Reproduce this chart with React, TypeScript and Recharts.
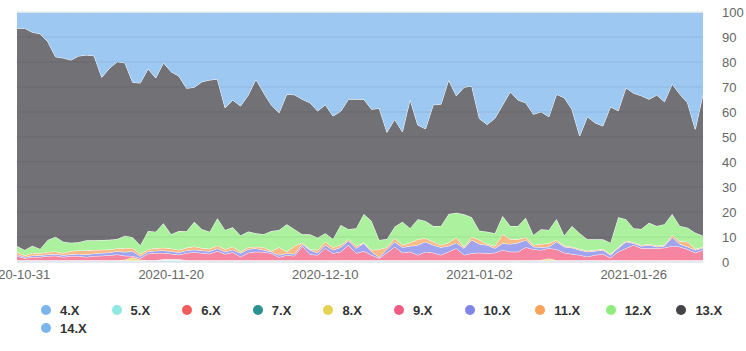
import { AreaChart, Area, XAxis, YAxis, ReferenceLine } from "recharts";

// one category per reporting day (a few holidays are missing)
const dates = [
  "2020-10-31", "2020-11-01", "2020-11-02", "2020-11-03", "2020-11-04", "2020-11-05", "2020-11-06", "2020-11-07", "2020-11-08", "2020-11-09",
  "2020-11-10", "2020-11-11", "2020-11-12", "2020-11-13", "2020-11-14", "2020-11-15", "2020-11-16", "2020-11-17", "2020-11-18", "2020-11-19",
  "2020-11-20", "2020-11-21", "2020-11-22", "2020-11-23", "2020-11-24", "2020-11-25", "2020-11-26", "2020-11-27", "2020-11-28", "2020-11-29",
  "2020-11-30", "2020-12-01", "2020-12-02", "2020-12-03", "2020-12-04", "2020-12-05", "2020-12-06", "2020-12-07", "2020-12-08", "2020-12-09",
  "2020-12-10", "2020-12-11", "2020-12-12", "2020-12-13", "2020-12-14", "2020-12-15", "2020-12-16", "2020-12-17", "2020-12-18", "2020-12-19",
  "2020-12-20", "2020-12-21", "2020-12-22", "2020-12-23", "2020-12-24", "2020-12-27", "2020-12-28", "2020-12-29", "2020-12-30", "2020-12-31",
  "2021-01-02", "2021-01-03", "2021-01-04", "2021-01-05", "2021-01-06", "2021-01-07", "2021-01-08", "2021-01-09", "2021-01-11", "2021-01-12",
  "2021-01-13", "2021-01-14", "2021-01-15", "2021-01-16", "2021-01-18", "2021-01-19", "2021-01-20", "2021-01-21", "2021-01-22", "2021-01-23",
  "2021-01-26", "2021-01-27", "2021-01-28", "2021-01-29", "2021-01-30", "2021-01-31", "2021-02-01", "2021-02-02", "2021-02-03", "2021-02-04",
];

// share per version, percent
const v4 = [
  0.2, 0.2, 0.2, 0.2, 0.2, 0.2, 0.2, 0.2, 0.2, 0.2,
  0.2, 0.2, 0.2, 0.2, 0.2, 0.2, 0.2, 0.2, 0.2, 0.2,
  0.2, 0.2, 0.2, 0.2, 0.2, 0.2, 0.2, 0.2, 0.2, 0.2,
  0.2, 0.2, 0.2, 0.2, 0.2, 0.2, 0.2, 0.2, 0.2, 0.2,
  0.2, 0.2, 0.2, 0.2, 0.2, 0.2, 0.2, 0.2, 0.2, 0.2,
  0.2, 0.2, 0.2, 0.2, 0.2, 0.2, 0.2, 0.2, 0.2, 0.2,
  0.2, 0.2, 0.2, 0.2, 0.2, 0.2, 0.2, 0.2, 0.2, 0.2,
  0.2, 0.2, 0.2, 0.2, 0.2, 0.2, 0.2, 0.2, 0.2, 0.2,
  0.2, 0.2, 0.2, 0.2, 0.2, 0.2, 0.2, 0.2, 0.2, 0.2,
];
const v5 = [
  0.2, 0.2, 0.2, 0.2, 0.2, 0.2, 0.2, 0.2, 0.2, 0.2,
  0.2, 0.2, 0.2, 0.2, 0.2, 0.2, 0.2, 0.2, 0.2, 0.6,
  0.6, 0.6, 0.2, 0.2, 0.2, 0.2, 0.2, 0.2, 0.2, 0.2,
  0.2, 0.2, 0.2, 0.2, 0.2, 0.2, 0.2, 0.2, 0.2, 0.2,
  0.2, 0.2, 0.2, 0.2, 0.2, 0.2, 0.2, 0.2, 0.2, 0.2,
  0.2, 0.2, 0.2, 0.2, 0.2, 0.2, 0.2, 0.2, 0.2, 0.2,
  0.2, 0.2, 0.2, 0.2, 0.2, 0.2, 0.2, 0.2, 0.2, 0.2,
  0.2, 0.2, 0.2, 0.2, 0.2, 0.2, 0.2, 0.2, 0.2, 0.2,
  0.2, 0.2, 0.2, 0.2, 0.2, 0.2, 0.2, 0.2, 0.2, 0.2,
];
const v6 = [
  0.1, 0.1, 0.1, 0.1, 0.1, 0.1, 0.1, 0.1, 0.1, 0.1,
  0.1, 0.1, 0.1, 0.1, 0.1, 0.1, 0.1, 0.1, 0.1, 0.1,
  0.1, 0.1, 0.1, 0.1, 0.1, 0.1, 0.1, 0.1, 0.1, 0.1,
  0.1, 0.1, 0.1, 0.1, 0.1, 0.1, 0.1, 0.1, 0.1, 0.1,
  0.1, 0.1, 0.1, 0.1, 0.1, 0.1, 0.1, 0.1, 0.1, 0.1,
  0.1, 0.1, 0.1, 0.1, 0.1, 0.1, 0.1, 0.1, 0.1, 0.1,
  0.1, 0.1, 0.1, 0.1, 0.1, 0.1, 0.1, 0.1, 0.1, 0.1,
  0.1, 0.1, 0.1, 0.1, 0.1, 0.1, 0.1, 0.1, 0.1, 0.1,
  0.1, 0.1, 0.1, 0.1, 0.1, 0.1, 0.1, 0.1, 0.1, 0.1,
];
const v7 = [
  0.1, 0.1, 0.1, 0.1, 0.1, 0.1, 0.1, 0.1, 0.1, 0.1,
  0.1, 0.1, 0.1, 0.1, 0.1, 0.1, 0.1, 0.1, 0.1, 0.1,
  0.1, 0.1, 0.1, 0.1, 0.1, 0.1, 0.1, 0.1, 0.1, 0.1,
  0.1, 0.1, 0.1, 0.1, 0.1, 0.1, 0.1, 0.1, 0.1, 0.1,
  0.1, 0.1, 0.1, 0.1, 0.1, 0.1, 0.1, 0.1, 0.1, 0.1,
  0.1, 0.1, 0.1, 0.1, 0.1, 0.1, 0.1, 0.1, 0.1, 0.1,
  0.1, 0.1, 0.1, 0.1, 0.1, 0.1, 0.1, 0.1, 0.1, 0.1,
  0.1, 0.1, 0.1, 0.1, 0.1, 0.1, 0.1, 0.1, 0.1, 0.1,
  0.1, 0.1, 0.1, 0.1, 0.1, 0.1, 0.1, 0.1, 0.1, 0.1,
];
const v8 = [
  0.1, 0.1, 0.1, 0.1, 0.1, 0.1, 0.1, 0.1, 0.1, 0.1,
  0.1, 0.1, 0.1, 0.1, 0.3, 1.3, 0.3, 0.1, 0.1, 0.1,
  0.1, 0.1, 0.1, 0.1, 0.1, 0.1, 0.1, 0.1, 0.1, 0.1,
  0.1, 0.1, 0.1, 0.1, 0.1, 0.1, 0.1, 0.1, 0.1, 0.1,
  0.1, 0.1, 0.1, 0.1, 0.1, 0.1, 0.1, 0.1, 0.1, 0.1,
  0.1, 0.1, 0.1, 0.1, 0.1, 0.1, 0.1, 0.1, 0.1, 0.1,
  0.1, 0.1, 0.1, 0.1, 0.1, 0.1, 0.1, 0.1, 0.2, 0.8,
  0.1, 0.1, 0.1, 0.1, 0.1, 0.1, 0.1, 0.1, 0.1, 0.1,
  0.1, 0.1, 0.1, 0.1, 0.1, 0.1, 0.1, 0.1, 0.1, 0.1,
];
const v9 = [
  1.7, 0.8, 1.3, 1.3, 1.7, 1.8, 1.3, 1.7, 1.7, 1.3,
  1.7, 1.8, 2.0, 2.3, 1.6, 0.5, 0.6, 2.6, 2.9, 2.5,
  2.2, 1.8, 2.9, 3.2, 2.9, 2.6, 3.7, 2.5, 3.2, 1.4,
  3.0, 3.4, 3.3, 2.8, 1.2, 2.1, 1.7, 5.7, 2.4, 2.1,
  4.8, 2.8, 3.4, 6.1, 2.8, 3.7, 2.1, 0.8, 3.0, 5.4,
  3.0, 3.4, 2.1, 3.4, 3.0, 2.1, 3.4, 4.8, 2.1, 2.8,
  3.0, 2.8, 3.0, 4.1, 3.4, 3.4, 5.2, 4.4, 4.0, 4.1,
  4.4, 3.0, 2.5, 2.1, 1.4, 2.1, 2.5, 1.0, 3.4, 4.8,
  6.1, 4.8, 4.8, 4.8, 5.0, 5.7, 5.4, 4.4, 3.0, 4.1,
];
const v10 = [
  0.6, 0.5, 0.6, 0.7, 0.6, 0.7, 0.7, 0.7, 0.8, 1.0,
  1.0, 1.1, 1.1, 1.3, 1.5, 1.9, 0.8, 0.9, 0.9, 1.0,
  1.0, 0.9, 1.0, 1.0, 1.0, 1.0, 1.0, 0.9, 1.0, 1.4,
  1.4, 1.4, 0.8, 0.6, 0.9, 0.7, 0.8, 0.8, 1.7, 0.9,
  1.3, 1.3, 1.8, 1.7, 2.0, 3.1, 1.3, 0.4, 1.4, 2.0,
  2.2, 2.3, 4.0, 4.0, 3.1, 3.1, 2.3, 2.2, 2.7, 5.3,
  3.5, 3.3, 1.8, 2.7, 3.1, 3.6, 2.9, 1.0, 1.1, 0.6,
  3.0, 2.4, 2.5, 2.0, 2.0, 1.6, 1.6, 1.1, 1.4, 2.6,
  0.7, 0.9, 1.3, 0.6, 0.7, 3.5, 1.1, 1.0, 1.1, 0.9,
];
const v11 = [
  1.0, 0.6, 1.0, 0.8, 1.0, 1.0, 0.8, 1.3, 1.4, 1.6,
  1.4, 1.3, 1.2, 1.1, 1.6, 1.3, 0.9, 0.9, 1.0, 1.1,
  1.1, 1.0, 1.1, 1.3, 1.0, 1.0, 1.2, 1.0, 1.2, 0.6,
  0.8, 0.6, 1.1, 0.3, 3.1, 0.6, 3.2, 0.5, 0.3, 1.1,
  1.3, 1.1, 0.9, 0.6, 0.9, 0.2, 0.7, 3.2, 0.8, 1.4,
  0.9, 1.3, 2.3, 1.4, 1.3, 0.9, 1.3, 2.2, 0.4, 1.3,
  1.6, 0.4, 0.9, 3.6, 1.9, 1.4, 1.1, 0.7, 1.3, 1.4,
  0.7, 0.4, 0.4, 0.4, 0.4, 0.4, 0.4, 0.4, 0.4, 0.4,
  0.4, 0.4, 0.4, 0.4, 0.4, 0.9, 1.1, 2.0, 0.4, 0.4,
];
const v12 = [
  2.4, 2.2, 2.9, 1.7, 4.8, 5.9, 4.6, 3.3, 3.3, 4.1,
  3.9, 3.9, 3.9, 3.8, 4.9, 4.3, 3.5, 7.3, 6.6, 9.8,
  5.7, 7.6, 6.6, 9.9, 7.5, 6.8, 10.9, 7.7, 7.8, 6.5,
  6.3, 5.4, 5.2, 8.0, 6.9, 11.0, 6.7, 3.4, 6.0, 4.9,
  3.4, 3.3, 8.0, 4.0, 7.1, 11.5, 11.6, 3.7, 3.3, 4.6,
  9.3, 5.8, 8.0, 6.9, 6.3, 7.6, 11.5, 9.8, 13.2, 7.8,
  3.7, 4.9, 5.1, 7.3, 5.3, 5.3, 7.8, 4.0, 5.9, 5.3,
  8.4, 4.1, 8.3, 6.3, 4.6, 4.3, 3.9, 4.5, 12.0, 8.6,
  5.6, 6.4, 8.5, 7.9, 8.3, 8.4, 6.1, 5.6, 6.5, 4.4,
];
const v13 = [
  87.1, 88.7, 85.4, 86.1, 79.3, 72.0, 73.5, 73.1, 74.5, 74.1,
  73.8, 65.1, 68.6, 70.9, 69.2, 62.0, 64.9, 64.9, 61.5, 64.2,
  65.0, 62.0, 57.2, 53.8, 59.0, 60.7, 55.7, 48.9, 50.9, 51.8,
  54.6, 61.6, 56.6, 50.4, 46.9, 52.0, 53.8, 54.0, 52.6, 50.7,
  51.4, 49.2, 45.5, 52.0, 51.6, 45.9, 44.7, 52.7, 42.7, 43.0,
  36.0, 51.6, 37.7, 36.9, 48.5, 48.7, 53.6, 46.8, 50.8, 52.5,
  44.8, 42.9, 46.0, 44.4, 53.7, 50.4, 46.0, 48.3, 47.0, 45.3,
  49.9, 55.1, 46.7, 39.0, 49.0, 46.6, 45.3, 54.4, 42.6, 52.6,
  54.0, 53.3, 49.4, 52.4, 49.0, 52.0, 52.7, 50.0, 41.4, 56.7,
];
const v14 = [
  6.5, 6.5, 8.1, 8.7, 11.9, 17.9, 18.4, 19.2, 17.6, 17.2,
  17.5, 26.1, 22.5, 19.9, 20.3, 28.1, 28.4, 22.7, 26.4, 20.3,
  23.9, 25.6, 30.5, 30.1, 27.9, 27.2, 26.8, 38.3, 35.2, 37.6,
  33.2, 26.9, 32.3, 37.2, 40.3, 32.9, 33.1, 34.9, 36.3, 39.6,
  37.1, 41.6, 39.7, 34.9, 34.9, 34.9, 38.9, 38.5, 48.1, 42.9,
  47.9, 34.9, 45.2, 46.7, 37.1, 36.9, 27.2, 33.5, 30.1, 29.6,
  42.7, 45.0, 42.5, 37.2, 31.9, 35.2, 36.3, 40.9, 39.9, 41.9,
  32.9, 34.3, 38.9, 49.5, 41.9, 44.3, 45.6, 37.9, 39.5, 30.3,
  32.5, 33.5, 34.9, 33.2, 35.9, 28.8, 32.9, 36.3, 46.9, 32.8,
];

const seriesNames = ["4.X", "5.X", "6.X", "7.X", "8.X", "9.X", "10.X", "11.X", "12.X", "13.X", "14.X"];
const seriesValues = [v4, v5, v6, v7, v8, v9, v10, v11, v12, v13, v14];
const seriesColors = [
  "#7cb5ec", "#91e8e1", "#f45b5b", "#2b908f", "#e4d354", "#f15c80",
  "#8085e9", "#f7a35c", "#90ed7d", "#434348", "#7cb5ec",
];

const xTicks = [0, 20, 40, 60, 80];
const yTicks = [0, 0.1, 0.2, 0.3, 0.4, 0.5, 0.6, 0.7, 0.8, 0.9, 1];

const data = dates.map((date, i) => {
  const row: Record<string, number | string> = { i, date };
  seriesNames.forEach((name, k) => {
    row[name] = seriesValues[k][i];
  });
  return row;
});

const font = '"Liberation Sans", Arial, sans-serif';

export default function App() {
  return (
    <div style={{ position: "absolute", left: 0, top: 0, width: 746, height: 351, fontFamily: font }}>
      <AreaChart
        width={746}
        height={290}
        data={data}
        stackOffset="expand"
        margin={{ top: 12, right: 0, bottom: 0, left: 17 }}
      >
        <XAxis
          dataKey="i"
          type="number"
          domain={[0, 89]}
          ticks={xTicks}
          interval={0}
          tickFormatter={(v) => dates[v]}
          axisLine={{ stroke: "#ccd6eb" }}
          tickLine={false}
          tick={{ fill: "#666666", fontSize: 13, fontFamily: font }}
          height={28}
        />
        <YAxis
          orientation="right"
          domain={[0, 1]}
          ticks={yTicks}
          tickFormatter={(v) => String(Math.round(v * 100))}
          axisLine={false}
          tickLine={false}
          tickSize={6}
          tickMargin={13}
          width={43}
          tick={{ fill: "#666666", fontSize: 13, fontFamily: font }}
        />
        {seriesNames.map((name, k) => (
          <Area
            key={name}
            type="linear"
            dataKey={name}
            stackId="v"
            stroke="#ffffff"
            strokeWidth={1}
            fill={seriesColors[k]}
            fillOpacity={0.75}
            dot={false}
            activeDot={false}
            isAnimationActive={false}
          />
        ))}
        {yTicks.slice(1, -1).map((t) => (
          <ReferenceLine key={t} y={t} stroke="#000000" strokeOpacity={0.07} />
        ))}
        <ReferenceLine y={1} stroke="#e6e6e6" />
      </AreaChart>

      {seriesNames.map((name, k) => (
        <div
          key={name}
          style={{
            position: "absolute",
            left: 41 + 70.6 * (k % 10),
            top: 302 + 18 * Math.floor(k / 10),
            height: 16,
            display: "flex",
            alignItems: "center",
            fontSize: 13,
            fontWeight: "bold",
            color: "#333333",
            whiteSpace: "nowrap",
          }}
        >
          <span
            style={{
              width: 10,
              height: 10,
              borderRadius: "50%",
              background: seriesColors[k],
              marginRight: 9,
              display: "inline-block",
            }}
          />
          {name}
        </div>
      ))}
    </div>
  );
}
